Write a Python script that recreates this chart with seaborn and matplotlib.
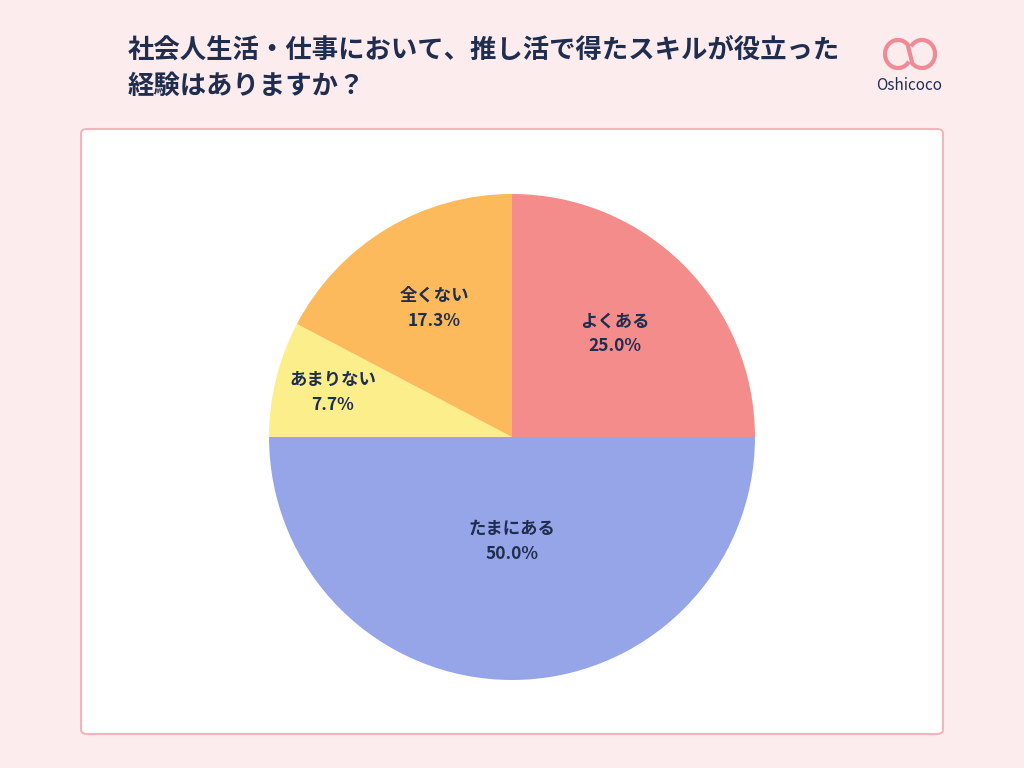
import numpy as np
import seaborn as sns
import matplotlib
matplotlib.use("Agg")
import matplotlib.pyplot as plt
from matplotlib.patches import FancyBboxPatch, Arc

sns.set_theme(style="white")
plt.rcParams["font.family"] = ["Noto Sans CJK JP", "DejaVu Sans"]

TITLE = "社会人生活・仕事において、推し活で得たスキルが役立った\n経験はありますか？"
labels = ["よくある", "たまにある", "あまりない", "全くない"]
values = [25.0, 50.0, 7.7, 17.3]
colors = ["#F48C8C", "#95A5E8", "#FDEE8C", "#FDBA5C"]
label_dist = [0.60, 0.43, 0.76, 0.62]
NAVY = "#1F2D4F"

fig = plt.figure(figsize=(10.24, 7.68), dpi=100)
fig.patch.set_facecolor("#FDECEE")

# white panel
panel = FancyBboxPatch((81 / 1024, 1 - 734 / 768), 862 / 1024, 605 / 768,
                       boxstyle="round,pad=0,rounding_size=0.006",
                       transform=fig.transFigure, facecolor="white",
                       edgecolor="#F7B3BB", linewidth=1.5, zorder=-5)
fig.patches.append(panel)

fig.text(128 / 1024, 1 - 68 / 768, TITLE, fontsize=19, fontweight="bold",
         color=NAVY, va="center", ha="left", linespacing=1.45)

# logo
fig.text(909 / 1024, 1 - 85 / 768, "Oshicoco", fontsize=11, color=NAVY,
         ha="center", va="center")
lax = fig.add_axes([878 / 1024, 1 - 72 / 768, 64 / 1024, 36 / 768])
lax.set_xlim(0, 64); lax.set_ylim(0, 36); lax.axis("off")
lax.add_patch(Arc((20, 18), 26, 28, theta1=35, theta2=325, color="#F08A95", lw=3))
lax.add_patch(Arc((44, 18), 26, 28, theta1=215, theta2=145, color="#F08A95", lw=3))
lax.plot([30, 34], [26, 10], color="#F08A95", lw=3)

ax = fig.add_axes([0.2627, 0.1146, 0.4746, 0.6328])
ax.set_zorder(2)
wedges, _ = ax.pie(values, colors=colors, startangle=90, counterclock=False,
                   wedgeprops=dict(linewidth=0))
ax.set_xlim(-1, 1)
ax.set_ylim(-1, 1)
ax.set_aspect("equal")
for w, lab, v, d in zip(wedges, labels, values, label_dist):
    ang = np.deg2rad((w.theta1 + w.theta2) / 2)
    ax.text(d * np.cos(ang), d * np.sin(ang), f"{lab}\n{v:.1f}%",
            ha="center", va="center", fontsize=12.5, fontweight="bold",
            color=NAVY, linespacing=1.5)

fig.savefig("out.png", dpi=100, facecolor=fig.get_facecolor())
